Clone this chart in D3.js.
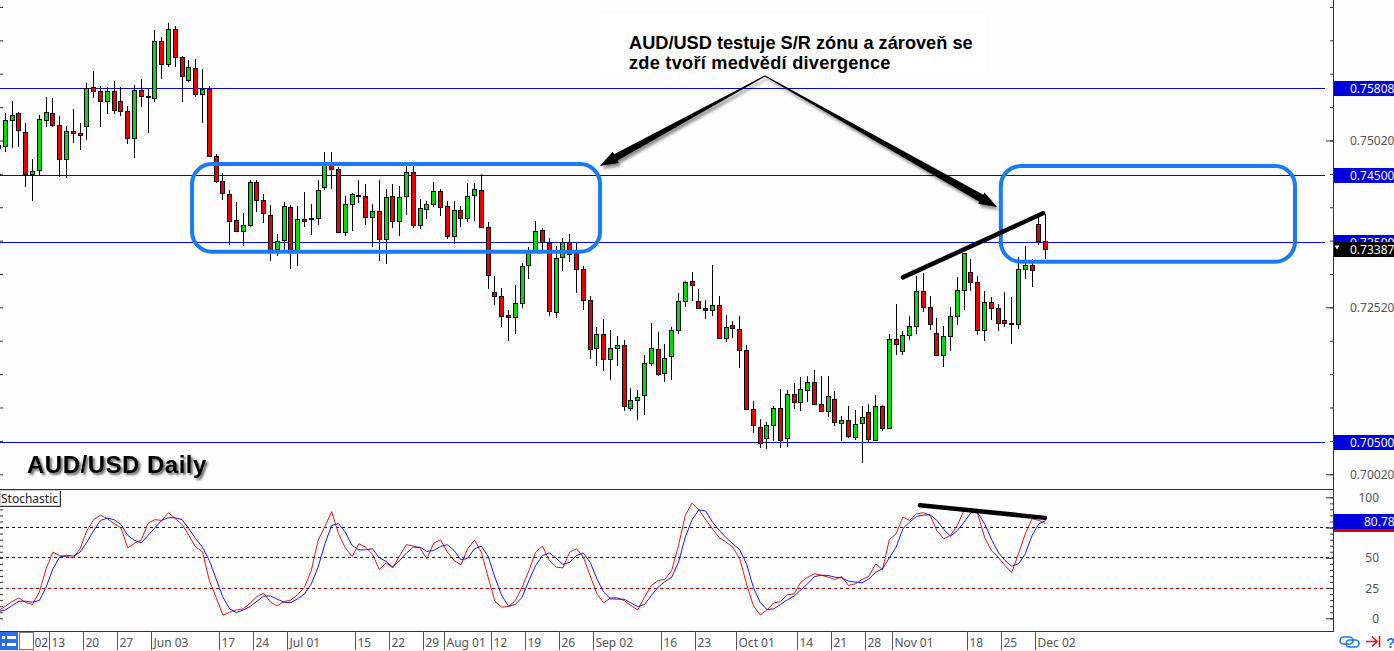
<!DOCTYPE html>
<html>
<head>
<meta charset="utf-8">
<script src="https://cdn.jsdelivr.net/npm/d3@7"></script>
<style>
  html, body { margin: 0; padding: 0; background: #fdfdfd; overflow: hidden; }
  svg { display: block; }
  .axisText { font-family: "Noto Sans", sans-serif; font-size: 12px; fill: #555; }
</style>
</head>
<body>
<div id="chart"></div>
<script>
// daily candles, first one is cut off by the left edge
const opens = [.74900,.74930,.75320,.75425,.75140,.74525,.74585,.75320,.75425,.75245,.74735,.75155,.75125,.75230,.75815,.75755,.75605,.75755,.75605,.75455,.75050,
  .75770,.75680,.75650,.76505,.76160,.76685,.76265,.75920,.76100,.75710,.75785,.74780,.74420,.74225,.73835,.73670,.73760,.74405,.74135,.73910,
  .73400,.73535,.74030,.73385,.73850,.73865,.73865,.74330,.74675,.74600,.73655,.74075,.74210,.74195,.73880,.73970,.73550,.74195,.73820,.74195,
  .74555,.73760,.74000,.74075,.74270,.74045,.73595,.73985,.73865,.74210,.74285,.73730,.72755,.72695,.72410,.72380,.72590,.73160,.73385,.73685,
  .73490,.72455,.73280,.73505,.73340,.73100,.72635,.71915,.72125,.71750,.71915,.71960,.71015,.71135,.71210,.71690,.71900,.71540,.71795,.72185,
  .72620,.72920,.72620,.72515,.72485,.72560,.72065,.72260,.72200,.71885,.71000,.70730,.70565,.70760,.71015,.70565,.71225,.71105,.71285,.71405,
  .71075,.70970,.71150,.70790,.70835,.70580,.70790,.70955,.70535,.71045,.70715,.72050,.71870,.72110,.72245,.72770,.72530,.72140,.71810,.72095,
  .72395,.72785,.73055,.72905,.72185,.72605,.72515,.72335,.72285,.72275,.73100,.73160,.73775,.73520];
const highs = [.75025,.75425,.75610,.75445,.75275,.74740,.75400,.75665,.75650,.75380,.75235,.75490,.75275,.75875,.76060,.75830,.75825,.75910,.75815,.75530,.75845,
  .75940,.75800,.76675,.76565,.76780,.76735,.76285,.76220,.76235,.76090,.75830,.74810,.74540,.74275,.74095,.73940,.74435,.74435,.74225,.74060,
  .73615,.74095,.74060,.74045,.74245,.74075,.74435,.74840,.74840,.74625,.74195,.74240,.74425,.74375,.74075,.74425,.74300,.74375,.74335,.74635,
  .74635,.74150,.74115,.74405,.74300,.74115,.74120,.74045,.74390,.74390,.74525,.73805,.72995,.72815,.72475,.72860,.73190,.73425,.73820,.73715,
  .73565,.73445,.73565,.73625,.73490,.73145,.72695,.72230,.72350,.72185,.72095,.72035,.71315,.71285,.71810,.72290,.72155,.71975,.72230,.72740,
  .72920,.73050,.72800,.72625,.73150,.72685,.72400,.72310,.72385,.71960,.71110,.70850,.70810,.71045,.71300,.71285,.71390,.71475,.71495,.71585,
  .71495,.71495,.71270,.70895,.71045,.70985,.71035,.71075,.71210,.71060,.72125,.72575,.72170,.72395,.72995,.73030,.72695,.72365,.72235,.72530,
  .72980,.73340,.73250,.72995,.72770,.72680,.72575,.72755,.72680,.73280,.73445,.73250,.73925,.73925];
const lows = [.74875,.74850,.74910,.74925,.74325,.74115,.74500,.75225,.75225,.74475,.74460,.74975,.74880,.75025,.75655,.75225,.75415,.75415,.75390,.74970,.74760,
  .75525,.75135,.75600,.75940,.76125,.76125,.75600,.75900,.75665,.75285,.74765,.74390,.74125,.73460,.73665,.73440,.73725,.73945,.73785,.73215,
  .73290,.73375,.73095,.73140,.73725,.73600,.73755,.74280,.74290,.73635,.73595,.73665,.74085,.73755,.73425,.73215,.73170,.73705,.73590,.73900,
  .73715,.73695,.73840,.74025,.73890,.73545,.73470,.73720,.73800,.73815,.73725,.72795,.72555,.72225,.72015,.72120,.72510,.72945,.73375,.73375,
  .72395,.72360,.73065,.73200,.72735,.72485,.71745,.71640,.71565,.71430,.71640,.70965,.70965,.70830,.70910,.71640,.71490,.71400,.71430,.72120,
  .72525,.72615,.72495,.72345,.72390,.72050,.72000,.72055,.71610,.70995,.70635,.70410,.70395,.70515,.70410,.70435,.70990,.70965,.71100,.71055,
  .70950,.70875,.70740,.70525,.70565,.70535,.70185,.70490,.70520,.70675,.70710,.71805,.71810,.72035,.72115,.72450,.72180,.71795,.71625,.71865,
  .72260,.72480,.72760,.72105,.72015,.72325,.72165,.72225,.71970,.72195,.72945,.72825,.73455,.73245];
const closes = [.74950,.75320,.75395,.75170,.74525,.74570,.75335,.75440,.75245,.74735,.75155,.75125,.75095,.75800,.75755,.75605,.75755,.75470,.75455,.75050,.75770,
  .75680,.75675,.76505,.76160,.76685,.76265,.75980,.76115,.75710,.75785,.74780,.74420,.74240,.73820,.73670,.73760,.74405,.74135,.73940,.73385,
  .73520,.74045,.73375,.73850,.73820,.73850,.74285,.74660,.74600,.73650,.74075,.74225,.74205,.73880,.73970,.73550,.74180,.73820,.74180,.74555,
  .73760,.74015,.74075,.74270,.74030,.73595,.73985,.73865,.74195,.74300,.73730,.73010,.72695,.72395,.72380,.72585,.73145,.73385,.73670,.73505,
  .72470,.73265,.73505,.73325,.73100,.72635,.71900,.72125,.71750,.71915,.71960,.71045,.71135,.71180,.71690,.71915,.71525,.71765,.72185,.72620,
  .72905,.72860,.72515,.72485,.72560,.72065,.72230,.72215,.71885,.71000,.70760,.70490,.70760,.71015,.70535,.71225,.71105,.71300,.71405,.71075,
  .70970,.71195,.70805,.70835,.70595,.70775,.70880,.70550,.71045,.70715,.72050,.71975,.72110,.72245,.72770,.72530,.72275,.71810,.72095,.72395,
  .72785,.73340,.72905,.72185,.72605,.72515,.72290,.72290,.72275,.73100,.73160,.73085,.73520,.73387];

// stochastic, red is the %K and blue the %D
const stochK = [6,10.0,13.8,16.9,13.0,11.4,21.6,40.9,54.7,51.7,51.1,50.0,57.5,72.6,81.5,85.3,82.3,78.2,74.8,58.3,61.9,
  64.9,78.7,81.5,80.9,87.3,82.3,77.6,68.5,58.8,55.0,31.2,17.4,2.5,5.0,6.9,7.8,12.5,18.0,20.7,13.3,
  10.3,13.8,15.2,19.6,25.7,39.5,64.4,75.9,88.1,69.9,58.3,51.1,61.6,58.8,52.8,40.3,45.9,41.7,51.9,60.8,
  59.7,58.0,49.2,62.1,64.9,54.7,47.8,44.2,57.5,64.6,54.7,34.0,14.1,9.2,9.7,14.7,25.7,39.5,54.7,59.7,
  47.8,42.3,41.7,54.7,57.5,50.6,35.4,20.2,12.7,16.9,16.9,14.7,10.5,6.9,17.4,27.1,31.2,32.3,39.5,60.2,
  85.1,95.3,89.7,81.5,74.0,66.6,63.0,58.8,49.2,28.5,10.5,2.8,6.9,12.7,13.8,19.4,20.2,29.9,34.0,36.8,
  35.6,34.0,32.1,34.5,27.1,28.5,32.1,34.8,45.0,40.3,64.9,69.9,83.7,80.9,86.4,87.3,85.1,72.6,65.7,68.5,
  76.8,89.2,91.1,86.4,67.1,56.1,50.6,43.7,37.9,53.3,69.9,82.3,80.9,78.2];
const stochD = [5.5,6.9,10.5,14.1,14.1,13.3,14.7,25.7,40.9,50.6,52.2,51.4,54.7,63.0,72.6,80.9,82.8,81.5,77.6,68.5,64.4,
  62.4,68.5,74.8,80.9,83.1,83.1,81.5,74.0,65.7,58.8,47.8,32.6,17.4,7.8,4.7,6.9,9.7,14.1,18.3,18.5,
  15.8,13.3,13.0,16.1,20.2,28.5,42.3,61.6,76.8,78.2,71.3,60.2,56.6,56.6,57.5,50.0,47.0,42.3,47.8,53.9,
  58.8,58.8,55.2,56.1,59.4,60.8,56.1,48.3,49.7,57.5,59.7,51.1,34.0,18.8,10.0,11.4,17.4,31.2,43.7,51.9,
  54.1,49.7,44.5,46.4,51.9,53.9,46.4,32.6,21.6,16.1,15.8,15.8,12.7,9.7,11.4,18.8,25.7,30.4,34.0,46.4,
  67.1,81.5,89.7,88.6,79.5,72.6,66.6,61.6,56.6,45.0,25.7,13.3,7.2,7.8,11.4,15.2,18.3,23.5,28.5,34.5,
  35.6,35.4,34.0,33.4,30.7,29.9,29.3,32.6,38.1,40.9,50.0,58.8,74.0,79.5,84.2,85.3,85.6,80.9,73.5,67.9,
  72.6,79.5,87.3,87.3,78.2,65.7,54.7,47.8,43.1,45.0,53.3,68.5,78.2,80.78];

// axis labels
const priceTicks = [.7702,.7652,.7602,.7552,.7502,.7452,.7402,.7352,.7302,.7252,.7202,.7152,.7102,.7052,.7002];
const priceLabelTicks = [.7502,.7252,.7002];
const levels = [.758,.745,.735,.705];
const levelLabels = ["0.75808","0.74500","0.73500","0.70500"];
const lastPrice = .73387;
const stochTicks = [0,5,10,15,20,25,30,35,40,45,50,55,60,65,70,75,80,85,90,95,100];
const stochLabelTicks = [0,25,50,100];
const stochDashes = [75,50,25];
const stochDashColors = ["#0000cc","#222222","#aa0000"];
const timeIdx = [5.42,8,13,18,23,33,38,43,53,58,63,66,73,78,83,88,98,103,109,118,123,128,132,143,148,153];
const timeLabels = ["02","13","20","27","Jun 03","17","24","Jul 01","15","22","29","Aug 01","12","19","26","Sep 02","16","23","Oct 01","14","21","28","Nov 01","18","25","Dec 02"];

const width = 1394, height = 651;
const plotRight = 1333, sepY = 489.5, bottomY = 631.5;

const svg = d3.select("#chart").append("svg")
  .attr("width", width)
  .attr("height", height);

const defs = svg.append("defs");
defs.append("filter").attr("id", "arrowShadow")
  .attr("x", "-10%").attr("y", "-10%").attr("width", "120%").attr("height", "130%")
  .append("feDropShadow")
    .attr("dx", 2).attr("dy", 3).attr("stdDeviation", 1.5)
    .attr("flood-color", "#000").attr("flood-opacity", .45);
defs.append("filter").attr("id", "titleShadow")
  .attr("x", "-5%").attr("y", "-20%").attr("width", "110%").attr("height", "150%")
  .append("feDropShadow")
    .attr("dx", 2).attr("dy", 2).attr("stdDeviation", 1)
    .attr("flood-color", "#333").attr("flood-opacity", .75);

// scales
const x = d3.scaleLinear().domain([0, opens.length - 1]).range([-1.5, -1.5 + 6.8 * (opens.length - 1)]);
const y = d3.scaleLinear().domain([.705, .758]).range([442.2, 88.4]);
const yStoch = d3.scaleLinear().domain([0, 100]).range([618.3, 497.3]);
const px = i => Math.floor(x(i));

// level lines
svg.append("g").selectAll("line")
  .data(levels)
  .join("line")
    .attr("x1", 0).attr("x2", 1325)
    .attr("y1", d => Math.round(y(d)) + .5)
    .attr("y2", d => Math.round(y(d)) + .5)
    .attr("stroke", "#0000dd");

// candles
const candles = svg.append("g").selectAll("g")
  .data(opens.map((d, i) => i))
  .join("g");
candles.append("line")
  .attr("x1", i => px(i) + .5).attr("x2", i => px(i) + .5)
  .attr("y1", i => Math.round(y(highs[i])))
  .attr("y2", i => Math.round(y(lows[i])))
  .attr("stroke", "#000");
candles.append("rect")
  .attr("x", i => px(i) - 1.5)
  .attr("y", i => Math.round(y(Math.max(opens[i], closes[i]))) + .5)
  .attr("width", 4)
  .attr("height", i => Math.max(1, Math.round(y(Math.min(opens[i], closes[i]))) - Math.round(y(Math.max(opens[i], closes[i])))))
  .attr("fill", i => closes[i] >= opens[i] ? "#00dd00" : "#ee0000")
  .attr("stroke", "#000");

// stochastic levels and lines
svg.append("g").selectAll("line")
  .data(stochDashes)
  .join("line")
    .attr("x1", 0).attr("x2", plotRight)
    .attr("y1", d => Math.floor(yStoch(d)) + .5)
    .attr("y2", d => Math.floor(yStoch(d)) + .5)
    .attr("stroke", (d, i) => stochDashColors[i])
    .attr("stroke-dasharray", "3,3");

const stochLine = d3.line().x((d, i) => x(i)).y(d => yStoch(d));
svg.append("path").attr("d", stochLine(stochK))
  .attr("fill", "none").attr("stroke", "#dd0000").attr("stroke-width", .9);
svg.append("path").attr("d", stochLine(stochD))
  .attr("fill", "none").attr("stroke", "#0000ee").attr("stroke-width", .9);

// panel frame
const frame = svg.append("g").attr("stroke", "#333");
frame.append("line").attr("x1", plotRight + .5).attr("x2", plotRight + .5).attr("y1", 0).attr("y2", bottomY);
frame.append("line").attr("x1", 0).attr("x2", plotRight + 1).attr("y1", sepY).attr("y2", sepY);
frame.append("line").attr("x1", 0).attr("x2", plotRight + 1).attr("y1", bottomY).attr("y2", bottomY);

// price axis ticks, both edges
function tickAxis(axis, scale, values, size) {
  const g = svg.append("g").call(axis(scale).tickValues(values).tickSize(size).tickFormat(""));
  g.select(".domain").remove();
  g.selectAll("line").attr("stroke", "#333");
  return g;
}
tickAxis(d3.axisLeft, y, priceTicks, 3).attr("transform", `translate(${plotRight},0)`);
tickAxis(d3.axisLeft, y, priceLabelTicks, 7).attr("transform", `translate(${plotRight},0)`);
tickAxis(d3.axisRight, y, priceTicks, 3);
tickAxis(d3.axisLeft, yStoch, stochTicks, 3).attr("transform", `translate(${plotRight},0)`);
tickAxis(d3.axisLeft, yStoch, stochDashes.concat([0, 100]), 7).attr("transform", `translate(${plotRight},0)`);
tickAxis(d3.axisRight, yStoch, stochTicks, 3);

// right side labels
svg.append("g").selectAll("text")
  .data(priceLabelTicks)
  .join("text")
    .attr("class", "axisText")
    .attr("x", 1350)
    .attr("y", d => y(d) + 4.5)
    .text(d => d.toFixed(5));
svg.append("g").selectAll("text")
  .data(stochLabelTicks)
  .join("text")
    .attr("class", "axisText")
    .attr("text-anchor", "end")
    .attr("x", 1379)
    .attr("y", d => yStoch(d) + 4.5)
    .text(d => d);

function priceTag(cy, fill, label, tx) {
  const g = svg.append("g");
  g.append("rect").attr("x", plotRight + 1).attr("y", Math.round(cy) - 7).attr("width", 60).attr("height", 15).attr("fill", fill);
  g.append("text").attr("class", "axisText").attr("x", tx).attr("y", Math.round(cy) + 5)
    .style("fill", "#fff").text(label);
  return g;
}
levels.forEach((d, i) => priceTag(y(d), "#0000dd", levelLabels[i], 1350));
const lastTag = priceTag(y(lastPrice), "#000", lastPrice.toFixed(5), 1350);
lastTag.append("path").attr("d", "M1334.5,245.5h5l-2.5,4z").attr("fill", "#fff");
priceTag(yStoch(stochK[stochK.length - 1]), "#dd0000", stochK[stochK.length - 1].toFixed(2), 1364);
priceTag(yStoch(stochD[stochD.length - 1]), "#0000dd", stochD[stochD.length - 1].toFixed(2), 1364);

// time axis
const timeG = svg.append("g").selectAll("g")
  .data(timeIdx)
  .join("g")
    .attr("transform", d => `translate(${Math.round(x(d - .53)) + .5},0)`);
timeG.append("line").attr("y1", bottomY).attr("y2", 650).attr("stroke", "#555");
timeG.append("text").attr("class", "axisText").attr("x", 2).attr("y", 647)
  .text((d, i) => timeLabels[i]);

// bottom left buttons
svg.append("rect").attr("x", 0).attr("y", 632).attr("width", 18).attr("height", 18).attr("fill", "#2b6fe0");
svg.append("g").attr("fill", "#fff").selectAll("rect")
  .data([[2, 636, 3], [7, 636, 9], [2, 643, 3], [7, 643, 9]])
  .join("rect")
    .attr("x", d => d[0]).attr("y", d => d[1]).attr("width", d => d[2]).attr("height", 3);
svg.append("rect").attr("x", 19.5).attr("y", 632.5).attr("width", 14).attr("height", 17)
  .attr("fill", "#fff").attr("stroke", "#777");
svg.append("rect").attr("x", 0).attr("y", 650).attr("width", width).attr("height", 1).attr("fill", "#f0f0f0");

// bottom right icons
const icons = svg.append("g").attr("fill", "none");
icons.append("rect").attr("x", 1340).attr("y", 637).attr("width", 13).attr("height", 7).attr("rx", 3.5)
  .attr("stroke", "#1a7cf5").attr("stroke-width", 1.6);
icons.append("rect").attr("x", 1346).attr("y", 640).attr("width", 13).attr("height", 7).attr("rx", 3.5)
  .attr("stroke", "#1a7cf5").attr("stroke-width", 1.6);
icons.append("path").attr("d", "M1366,641.5h11M1372,636.5l5,5l-5,5M1379.5,636v11")
  .attr("stroke", "#ee1111").attr("stroke-width", 1.6);
svg.append("text").attr("x", 1386).attr("y", 648).attr("font-family", "Liberation Sans, sans-serif")
  .attr("font-weight", "bold").attr("font-size", 15).attr("fill", "#1a7cf5").text("?");

// Stochastic caption
svg.append("rect").attr("x", .5).attr("y", 490.5).attr("width", 59).attr("height", 15).attr("fill", "#fff").attr("stroke", "#ccc");
svg.append("path").attr("d", "M0,506.5H60.5V491").attr("fill", "none").attr("stroke", "#333");
svg.append("text").attr("class", "axisText").attr("x", 1).attr("y", 503).style("fill", "#222").text("Stochastic");

// title
svg.append("text")
  .attr("x", 27).attr("y", 473)
  .attr("font-family", "Liberation Sans, Arial, sans-serif")
  .attr("font-weight", "bold").attr("font-size", 24).attr("letter-spacing", .5)
  .attr("fill", "#000")
  .attr("filter", "url(#titleShadow)")
  .text("AUD/USD Daily");

// zones
const zones = [
  {x0: 28.46, x1: 88.46, p0: .74667, p1: .73354},
  {x0: 147.4, x1: 190.66, p0: .74636, p1: .73204}
];
svg.append("g").selectAll("rect")
  .data(zones)
  .join("rect")
    .attr("x", d => x(d.x0))
    .attr("y", d => y(d.p0))
    .attr("width", d => x(d.x1) - x(d.x0))
    .attr("height", d => y(d.p1) - y(d.p0))
    .attr("rx", 20)
    .attr("fill", "none")
    .attr("stroke", "#1a7cf5")
    .attr("stroke-width", 4);

// divergence lines
svg.append("line")
  .attr("x1", x(133)).attr("y1", y(.72969)).attr("x2", x(153.6)).attr("y2", y(.73929))
  .attr("stroke", "#000").attr("stroke-width", 4.5).attr("stroke-linecap", "round");
svg.append("line")
  .attr("x1", x(135.5)).attr("y1", yStoch(93.5)).attr("x2", x(153.9)).attr("y2", yStoch(83))
  .attr("stroke", "#000").attr("stroke-width", 4.5).attr("stroke-linecap", "round");

// annotation box + arrows
svg.append("rect").attr("x", 600).attr("y", 14).attr("width", 385).attr("height", 59).attr("fill", "#fff");
function arrow(x0, y0, x1, y1, tail, neck, head, headLen) {
  const len = Math.hypot(x1 - x0, y1 - y0), ux = (x1 - x0) / len, uy = (y1 - y0) / len, nx = -uy, ny = ux;
  const bx = x1 - ux * headLen, by = y1 - uy * headLen;
  return d3.line()([
    [x0 + nx * tail / 2, y0 + ny * tail / 2],
    [bx + nx * neck / 2, by + ny * neck / 2],
    [bx + nx * head / 2, by + ny * head / 2],
    [x1, y1],
    [bx - nx * head / 2, by - ny * head / 2],
    [bx - nx * neck / 2, by - ny * neck / 2],
    [x0 - nx * tail / 2, y0 - ny * tail / 2]
  ]) + "Z";
}
svg.append("path").attr("d", arrow(765, 76, 600, 166, 1, 7, 13, 18)).attr("fill", "#000").attr("filter", "url(#arrowShadow)");
svg.append("path").attr("d", arrow(765, 76, 997, 207, 1, 8, 13, 18)).attr("fill", "#000").attr("filter", "url(#arrowShadow)");

const note = svg.append("text")
  .attr("font-family", "Liberation Sans, Arial, sans-serif")
  .attr("font-weight", "bold").attr("font-size", 18.2).attr("fill", "#000");
note.append("tspan").attr("x", 629).attr("y", 49).text("AUD/USD testuje S/R zónu a zároveň se");
note.append("tspan").attr("x", 629).attr("y", 69).attr("letter-spacing", .25).text("zde tvoří medvědí divergence");
</script>
</body>
</html>
